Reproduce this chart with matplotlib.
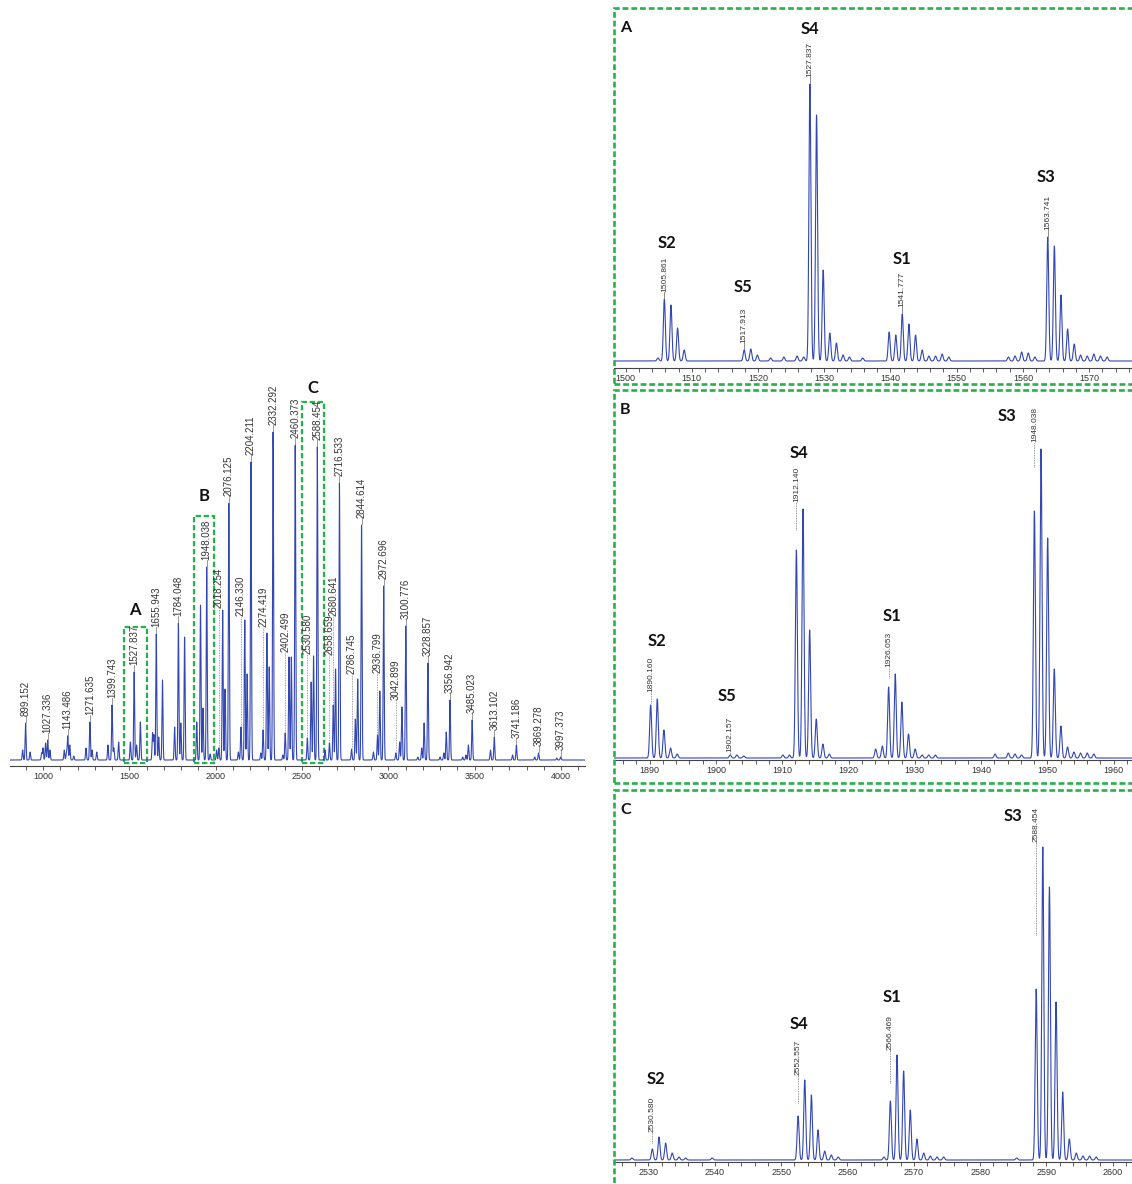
import matplotlib.pyplot as plt
import numpy as np
from matplotlib.patches import Rectangle
from matplotlib.ticker import MultipleLocator

W, H = 1132, 1184
BLUE = "#3347b3"
GREEN = "#25b24b"
plt.rcParams["font.family"] = ["Liberation Sans", "DejaVu Sans"]

# ---- overview spectrum: cluster positions (m/z) and heights ----
main_mz = [882, 899.152, 925, 992, 1000, 1015, 1027.336, 1040, 1123, 1136, 1143.486,
           1155, 1178, 1249, 1271.635, 1284, 1311, 1376, 1399.743, 1410, 1438,
           1505.9, 1527.837, 1541.8, 1563.7, 1634, 1642, 1655.943, 1670, 1691.8,
           1762, 1784.048, 1798, 1819.9, 1890.2, 1912.1, 1926.1, 1948.038, 1968,
           2005, 2018.254, 2040.2, 2054.1, 2076.125, 2131, 2146.330, 2168.3, 2182,
           2204.211, 2261, 2274.419, 2296.4, 2310, 2332.292, 2389, 2402.499, 2424.5,
           2438, 2460.373, 2530.580, 2552.6, 2566.5, 2588.454, 2633, 2658.659,
           2680.641, 2694, 2716.533, 2786.745, 2808.7, 2822, 2844.614, 2913,
           2936.799, 2950, 2972.696, 3042.899, 3064.9, 3078, 3100.776, 3170, 3193,
           3206.8, 3228.857, 3299, 3321, 3334.9, 3356.942, 3430, 3449, 3463,
           3485.023, 3591, 3613.102, 3719, 3741.186, 3847, 3869.278, 3975, 3997.373]
main_int = [10, 37, 8, 7, 12, 17, 20, 10, 10, 8, 24,
            15, 4, 12, 38, 10, 8, 15, 55, 12, 18,
            18, 88, 15, 38, 27, 25, 126, 23, 80,
            33, 137, 37, 123, 38, 155, 52, 193, 6,
            10, 12, 150, 71, 257, 8, 33, 140, 86,
            298, 7, 30, 127, 93, 328, 5, 27, 103,
            103, 315, 22, 78, 104, 313, 10, 17,
            55, 91, 277, 11, 41, 81, 235, 8,
            25, 69, 174, 7, 18, 53, 134, 3, 12,
            37, 97, 3, 7, 28, 60, 3, 5, 15,
            40, 10, 23, 5, 15, 3, 7, 2, 3]

main_labels = ["899.152", "1027.336", "1143.486", "1271.635", "1399.743", "1527.837",
               "1655.943", "1784.048", "1948.038", "2018.254", "2076.125", "2146.330",
               "2204.211", "2274.419", "2332.292", "2402.499", "2460.373", "2530.580",
               "2588.454", "2658.659", "2680.641", "2716.533", "2786.745", "2844.614",
               "2936.799", "2972.696", "3042.899", "3100.776", "3228.857", "3356.942",
               "3485.023", "3613.102", "3741.186", "3869.278", "3997.373"]
# labels lifted above their (small) peak with a dotted leader
main_lifted = {"2018.254": 152, "2146.330": 144, "2274.419": 133, "2402.499": 108,
               "2530.580": 106, "2658.659": 105, "2680.641": 144, "2786.745": 86,
               "2936.799": 87, "3042.899": 60}

# ---- zoom A ----
a_mz = [1504.9, 1505.861, 1506.86, 1507.86, 1508.86, 1517.913, 1518.91, 1519.91, 1521.9,
        1523.9, 1525.9, 1526.9, 1527.837, 1528.84, 1529.84, 1530.84, 1531.84, 1532.84,
        1533.8, 1535.8, 1539.8, 1540.8, 1541.777, 1542.78, 1543.78, 1544.78, 1545.8,
        1546.8, 1547.8, 1548.8, 1557.8, 1558.8, 1559.8, 1560.8, 1561.8, 1563.741,
        1564.74, 1565.74, 1566.74, 1567.74, 1568.7, 1569.7, 1570.7, 1571.7, 1572.7]
a_int = [3, 62, 56, 33, 11, 11, 12, 6, 3,
         4, 5, 4, 277, 246, 91, 28, 18, 6,
         4, 3, 29, 26, 47, 37, 26, 11, 5,
         5, 7, 4, 4, 5, 9, 8, 4, 124,
         115, 66, 32, 17, 6, 5, 7, 5, 4]
a_labels = ["1505.861", "1517.913", "1527.837", "1541.777", "1563.741"]
a_series = {"S2": (1506.3, 118), "S5": (1517.7, 74), "S4": (1527.8, 332),
            "S1": (1541.7, 102), "S3": (1563.5, 184)}

# ---- zoom B ----
b_mz = [1890.160, 1891.16, 1892.16, 1893.16, 1894.16, 1902.157, 1903.16, 1904.2, 1910.1,
        1911.1, 1912.140, 1913.14, 1914.14, 1915.14, 1916.14, 1917.1, 1924.1, 1925.1,
        1926.053, 1927.05, 1928.05, 1929.05, 1930.05, 1931.1, 1932.1, 1933.1, 1942.1,
        1944.1, 1945.1, 1946.1, 1948.038, 1949.04, 1950.04, 1951.04, 1952.04, 1953.04,
        1954.0, 1955.0, 1956.0, 1957.0]
b_int = [53, 59, 28, 10, 4, 3, 3, 2, 3,
         3, 208, 249, 128, 39, 14, 4, 9, 12,
         71, 84, 56, 24, 9, 3, 3, 3, 4,
         5, 4, 3, 247, 309, 220, 89, 32, 11,
         6, 5, 5, 4]
b_labels = ["1890.160", "1902.157", "1912.140", "1926.053", "1948.038"]
b_lead = {"1890.160": (55, 66), "1902.157": (3, 6), "1912.140": (228, 256),
          "1926.053": (80, 91), "1948.038": (291, 316)}
b_series = {"S2": (1891.1, 117), "S5": (1901.7, 62), "S4": (1912.5, 305),
            "S1": (1926.6, 142), "S3": (1943.9, 342)}

# ---- zoom C ----
c_mz = [2527.5, 2530.580, 2531.58, 2532.58, 2533.58, 2534.6, 2535.6, 2539.6, 2552.557,
        2553.56, 2554.56, 2555.56, 2556.56, 2557.56, 2558.6, 2565.5, 2566.469, 2567.47,
        2568.47, 2569.47, 2570.47, 2571.5, 2572.5, 2573.5, 2574.5, 2585.5, 2588.454,
        2589.45, 2590.45, 2591.45, 2592.45, 2593.45, 2594.5, 2595.5, 2596.5, 2597.5]
c_int = [2, 11, 23, 17, 7, 3, 2, 2, 44,
         80, 65, 30, 9, 5, 3, 3, 59, 105,
         89, 50, 21, 7, 4, 3, 3, 2, 171,
         313, 273, 158, 68, 21, 7, 4, 4, 3]
c_labels = ["2530.580", "2552.557", "2566.469", "2588.454"]
c_lead = {"2530.580": (17, 28), "2552.557": (57, 85), "2566.469": (77, 110),
          "2588.454": (225, 318)}
c_series = {"S2": (2531.1, 81), "S4": (2552.7, 136), "S1": (2566.7, 163),
            "S3": (2585.0, 344)}


def profile(x, mz, inten, sigma):
    y = np.zeros_like(x)
    for m, h in zip(mz, inten):
        y += h * np.exp(-0.5 * ((x - m) / sigma) ** 2)
    return y


def px_axes(fig, left, top, right, bottom):
    return fig.add_axes([left / W, 1 - bottom / H, (right - left) / W, (bottom - top) / H])


def style_axis(ax, major, minor):
    for s in ["top", "left", "right"]:
        ax.spines[s].set_visible(False)
    ax.spines["bottom"].set_color("#444444")
    ax.spines["bottom"].set_linewidth(0.8)
    ax.set_yticks([])
    ax.xaxis.set_major_locator(MultipleLocator(major))
    ax.xaxis.set_minor_locator(MultipleLocator(minor))
    ax.tick_params(axis="x", which="both", direction="out", length=3, width=0.6,
                   color="#444444", labelsize=6.5, labelcolor="#333333", pad=1.5)
    ax.patch.set_alpha(0)


def draw_panel(fig, box, xlim, ylim, mz, inten, labels, lead, series, letter, step):
    ax = px_axes(fig, *box)
    x = np.arange(xlim[0] - 1, xlim[1] + 1, 0.01)
    ax.plot(x, profile(x, mz, inten, 0.15), color=BLUE, lw=0.8)
    ax.set_xlim(*xlim)
    ax.set_ylim(*ylim)
    style_axis(ax, 10, 2)
    for lab in labels:
        m = float(lab)
        if lead is None:
            h = inten[mz.index(m)]
            lo, hi = h + 1, h + 7
            ls = "-"
        else:
            lo, hi = lead[lab]
            ls = (0, (1, 1))
        ax.plot([m, m], [lo, hi], color="#777777", lw=0.6, ls=ls)
        ax.text(m, hi, lab, rotation=90, ha="center", va="bottom", fontsize=6,
                color="#333333")
    for name, (sx, sy) in series.items():
        ax.text(sx, sy, name, ha="center", va="center", fontsize=12,
                fontweight="bold", family="Lato", color="#111111")
    ax.text(xlim[0] + step, ylim[1] - 18, letter, ha="center", va="center",
            fontsize=11.5, fontweight="bold", family="Lato", color="#111111")
    return ax


fig = plt.figure(figsize=(W / 100, H / 100), dpi=100)

# overview spectrum
ax = px_axes(fig, 10, 380, 585, 766)
x = np.arange(800, 4150, 0.25)
ax.plot(x, profile(x, main_mz, main_int, 2.8), color=BLUE, lw=0.8)
ax.set_xlim(808.9, 4138.4)
ax.set_ylim(-6, 380)
style_axis(ax, 500, 100)
for lab in main_labels:
    m = float(lab)
    h = main_int[main_mz.index(m)]
    if lab in main_lifted:
        top = main_lifted[lab]
        ax.plot([m, m], [h + 1, top], color="#888888", lw=0.6, ls=(0, (1, 1)))
    else:
        top = h + 7
        ax.plot([m, m], [h + 1, top], color="#888888", lw=0.6)
    ax.text(m, top, lab, rotation=90, ha="center", va="bottom", fontsize=7,
            color="#333333")

for (x0, x1, ytop, letter, ly) in [(1469, 1600, 133, "A", 150),
                                   (1874, 1990, 244, "B", 264),
                                   (2498, 2629, 358, "C", 372)]:
    ax.add_patch(Rectangle((x0, -3), x1 - x0, ytop + 3, fill=False, ec=GREEN,
                           lw=1.6, ls=(0, (2.4, 1.2)), clip_on=False))
    ax.text((x0 + x1) / 2, ly, letter, ha="center", va="center", fontsize=12,
            fontweight="bold", family="Lato", color="#111111")

# zoom panels
draw_panel(fig, (614, 10, 1132, 368), (1498.26, 1576.46), (-7, 351),
           a_mz, a_int, a_labels, None, a_series, "A", 1.8)
draw_panel(fig, (614, 392, 1132, 760), (1884.63, 1962.76), (-2, 366),
           b_mz, b_int, b_labels, b_lead, b_series, "B", 1.7)
draw_panel(fig, (614, 792, 1132, 1162), (2524.8, 2602.9), (-2, 368),
           c_mz, c_int, c_labels, c_lead, c_series, "C", 1.7)

# dashed frames round the zoom panels
for (top, bottom) in [(8, 384), (390, 783), (790, 1196)]:
    fig.add_artist(Rectangle((614 / W, 1 - bottom / H), 540 / W, (bottom - top) / H,
                             transform=fig.transFigure, fill=False, ec=GREEN,
                             lw=1.9, ls=(0, (2.2, 1.1))))

fig.savefig("out.png", dpi=100)
